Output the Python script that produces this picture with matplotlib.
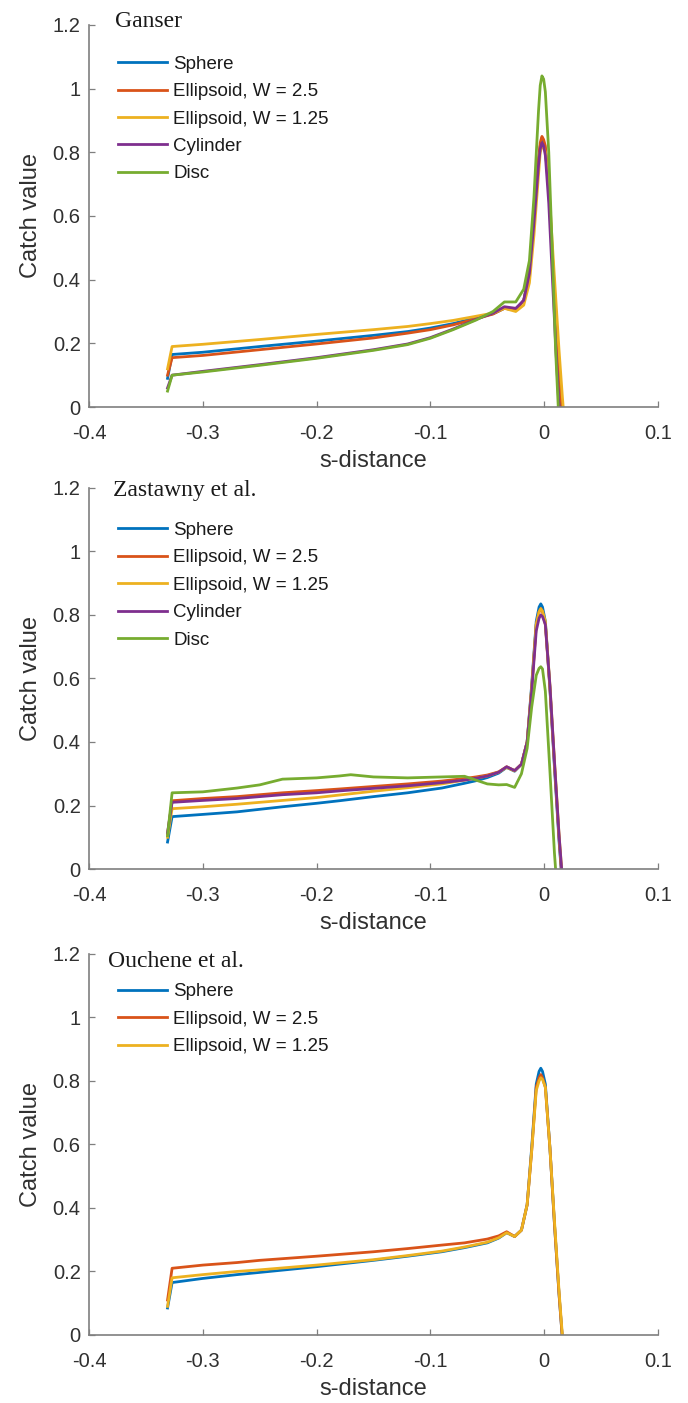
import numpy as np
import matplotlib.pyplot as plt

plt.rcParams['font.family'] = ['Liberation Sans', 'DejaVu Sans']

# MATLAB default line colours
colours = ['#0072BD', '#D95319', '#EDB120', '#7E2F8E', '#77AC30']
labels = ['Sphere', 'Ellipsoid, W = 2.5', 'Ellipsoid, W = 1.25', 'Cylinder', 'Disc']

# --- Ganser ---
s_ganser = [-0.331, -0.327, -0.3, -0.25, -0.2, -0.15, -0.12, -0.1, -0.08, -0.06,
            -0.045, -0.035, -0.025, -0.018, -0.013, -0.009, -0.005, -0.0035, -0.002,
            -0.0005, 0.001, 0.004, 0.007, 0.010, 0.013, 0.016, 0.019]
ganser_sphere = [0.09, 0.165, 0.172, 0.19, 0.207, 0.225, 0.237, 0.248, 0.262, 0.28,
                 0.293, 0.31, 0.305, 0.335, 0.42, 0.58, 0.77, 0.82, 0.84,
                 0.83, 0.81, 0.68, 0.48, 0.30, 0.12, -0.04, -0.2]
ganser_ell25 = [0.10, 0.155, 0.162, 0.18, 0.198, 0.217, 0.232, 0.243, 0.258, 0.277,
                0.292, 0.31, 0.305, 0.335, 0.42, 0.59, 0.78, 0.83, 0.85,
                0.84, 0.82, 0.69, 0.49, 0.31, 0.13, -0.03, -0.2]
ganser_ell125 = [0.12, 0.19, 0.197, 0.212, 0.228, 0.243, 0.253, 0.262, 0.272, 0.285,
                 0.295, 0.31, 0.30, 0.32, 0.39, 0.54, 0.73, 0.80, 0.82,
                 0.815, 0.80, 0.70, 0.52, 0.35, 0.18, 0.03, -0.1]
ganser_cyl = [0.06, 0.10, 0.112, 0.133, 0.155, 0.18, 0.198, 0.218, 0.245, 0.275,
              0.295, 0.315, 0.31, 0.335, 0.42, 0.58, 0.76, 0.81, 0.83,
              0.82, 0.79, 0.64, 0.42, 0.20, 0.0, -0.2, -0.3]
ganser_disc = [0.05, 0.10, 0.11, 0.131, 0.153, 0.178, 0.196, 0.216, 0.243, 0.273,
               0.30, 0.33, 0.33, 0.37, 0.46, 0.66, 0.93, 1.01, 1.04,
               1.03, 0.99, 0.80, 0.50, 0.18, -0.05, -0.2, -0.3]

# --- Zastawny et al. ---
s_zast = [-0.331, -0.327, -0.3, -0.27, -0.25, -0.23, -0.2, -0.18, -0.15, -0.12,
          -0.09, -0.07, -0.06, -0.05, -0.04, -0.033, -0.026,
          -0.02, -0.015, -0.011, -0.007, -0.0045, -0.003, -0.0015, 0.001, 0.005,
          0.009, 0.013, 0.017]
zast_sphere = [0.085, 0.165, 0.172, 0.18, 0.188, 0.196, 0.207, 0.215, 0.228, 0.24,
               0.255, 0.27, 0.278, 0.288, 0.302, 0.32, 0.308,
               0.33, 0.40, 0.58, 0.78, 0.825, 0.835, 0.825, 0.78, 0.57,
               0.32, 0.09, -0.1]
zast_ell25 = [0.11, 0.215, 0.222, 0.228, 0.234, 0.24, 0.247, 0.252, 0.26, 0.268,
              0.277, 0.285, 0.29, 0.296, 0.306, 0.322, 0.31,
              0.33, 0.40, 0.57, 0.77, 0.81, 0.82, 0.81, 0.77, 0.57,
              0.33, 0.10, -0.1]
zast_ell125 = [0.10, 0.19, 0.196, 0.204, 0.21, 0.216, 0.225, 0.233, 0.245, 0.256,
               0.268, 0.28, 0.286, 0.293, 0.305, 0.32, 0.309,
               0.33, 0.40, 0.57, 0.77, 0.81, 0.82, 0.812, 0.78, 0.58,
               0.34, 0.11, -0.08]
zast_cyl = [0.115, 0.21, 0.216, 0.222, 0.228, 0.234, 0.24, 0.246, 0.254, 0.262,
            0.272, 0.28, 0.286, 0.293, 0.305, 0.322, 0.31,
            0.33, 0.40, 0.56, 0.75, 0.79, 0.80, 0.795, 0.77, 0.58,
            0.34, 0.11, -0.08]
s_zast_disc = [-0.331, -0.327, -0.3, -0.27, -0.25, -0.23, -0.2, -0.18, -0.17, -0.15,
               -0.12, -0.09, -0.07, -0.06, -0.05, -0.04, -0.033, -0.026,
               -0.02, -0.015, -0.011, -0.007, -0.0045, -0.003, -0.0015, 0.001,
               0.005, 0.009, 0.013]
zast_disc = [0.105, 0.24, 0.243, 0.255, 0.265, 0.283, 0.287, 0.293, 0.297, 0.29,
             0.287, 0.29, 0.292, 0.28, 0.268, 0.265, 0.266, 0.257,
             0.30, 0.38, 0.51, 0.61, 0.632, 0.637, 0.63, 0.56,
             0.31, 0.05, -0.15]

# --- Ouchene et al. ---
s_ouch = [-0.331, -0.327, -0.3, -0.27, -0.25, -0.2, -0.15, -0.12, -0.09, -0.07,
          -0.05, -0.04, -0.033, -0.026, -0.02, -0.015, -0.011, -0.007, -0.0045,
          -0.003, -0.0015, 0.001, 0.005, 0.009, 0.013, 0.017]
ouch_sphere = [0.085, 0.165, 0.178, 0.19, 0.197, 0.215, 0.235, 0.248, 0.262, 0.275,
               0.29, 0.305, 0.322, 0.31, 0.33, 0.41, 0.59, 0.79, 0.83,
               0.84, 0.83, 0.79, 0.59, 0.35, 0.13, -0.06]
ouch_ell25 = [0.11, 0.21, 0.22, 0.228, 0.235, 0.248, 0.262, 0.272, 0.283, 0.29,
              0.302, 0.312, 0.325, 0.31, 0.33, 0.41, 0.58, 0.78, 0.81,
              0.82, 0.81, 0.78, 0.59, 0.35, 0.13, -0.06]
ouch_ell125 = [0.09, 0.18, 0.19, 0.20, 0.205, 0.22, 0.237, 0.25, 0.264, 0.277,
               0.292, 0.306, 0.322, 0.31, 0.33, 0.41, 0.58, 0.77, 0.80,
               0.81, 0.805, 0.78, 0.59, 0.36, 0.14, -0.05]

panels = [
    ('Ganser', [(s_ganser, ganser_sphere), (s_ganser, ganser_ell25), (s_ganser, ganser_ell125),
                (s_ganser, ganser_cyl), (s_ganser, ganser_disc)]),
    ('Zastawny et al.', [(s_zast, zast_sphere), (s_zast, zast_ell25), (s_zast, zast_ell125),
                         (s_zast, zast_cyl), (s_zast_disc, zast_disc)]),
    ('Ouchene et al.', [(s_ouch, ouch_sphere), (s_ouch, ouch_ell25), (s_ouch, ouch_ell125)]),
]

# axes boxes in figure fractions, and per-panel title / legend placement
boxes = [[0.1294, 0.7099, 0.827, 0.2723],
         [0.1294, 0.3806, 0.827, 0.2716],
         [0.1294, 0.0485, 0.827, 0.2716]]
title_pos = [(0.046, 0.995), (0.042, 0.979), (0.034, 0.966)]
legend_pos = [(0.051, 0.920), (0.051, 0.911), (0.051, 0.923)]

fig = plt.figure(figsize=(6.88, 14.03), dpi=100)
grey = '#7f7f7f'
txt = '#303030'

for k, (name, curves) in enumerate(panels):
    ax = fig.add_axes(boxes[k])
    for i, (s, v) in enumerate(curves):
        ax.plot(s, v, color=colours[i], lw=2.0, label=labels[i])
    ax.set_xlim(-0.4, 0.1)
    ax.set_ylim(0, 1.2)
    ax.set_xticks([-0.4, -0.3, -0.2, -0.1, 0, 0.1])
    ax.set_xticklabels(['-0.4', '-0.3', '-0.2', '-0.1', '0', '0.1'])
    ax.set_yticks([0, 0.2, 0.4, 0.6, 0.8, 1, 1.2])
    ax.set_yticklabels(['0', '0.2', '0.4', '0.6', '0.8', '1', '1.2'])
    for side in ['top', 'right']:
        ax.spines[side].set_visible(False)
    for side in ['left', 'bottom']:
        ax.spines[side].set_color(grey)
        ax.spines[side].set_linewidth(1.2)
    ax.tick_params(direction='in', length=4, width=0.9, color=grey,
                   labelcolor=txt, labelsize=14.5)
    ax.tick_params(axis='x', pad=12)
    ax.tick_params(axis='y', pad=6)
    ax.set_xlabel('s-distance', fontsize=17, color=txt, labelpad=5)
    ax.set_ylabel('Catch value', fontsize=17, color=txt, labelpad=8)
    ax.text(title_pos[k][0], title_pos[k][1], name, transform=ax.transAxes,
            family=['Liberation Serif', 'DejaVu Serif'], fontsize=17,
            color='#1a1a1a', va='baseline', ha='left')
    leg = ax.legend(loc='upper left', bbox_to_anchor=legend_pos[k], frameon=False,
                    fontsize=13.5, handlelength=2.6, handletextpad=0.35,
                    labelspacing=0.55, borderpad=0, borderaxespad=0)
    for t in leg.get_texts():
        t.set_color('#1a1a1a')

fig.savefig('out.png', dpi=100)
